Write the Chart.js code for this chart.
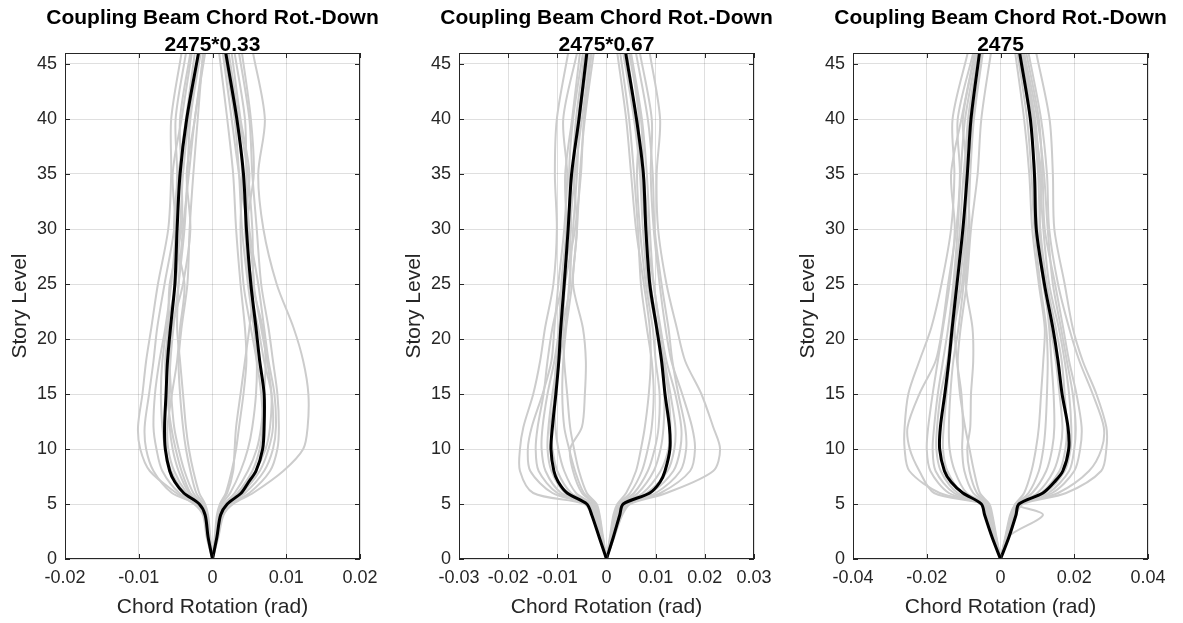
<!DOCTYPE html>
<html>
<head>
<meta charset="utf-8">
<script src="https://cdn.jsdelivr.net/npm/chart.js@4"></script>
<style>
  body { margin: 0; background: #fff; overflow: hidden; }
  .panel { position: absolute; top: 0; width: 394px; height: 623px; }
</style>
</head>
<body>
<div class="panel" style="left:0px"><canvas id="c1" width="394" height="623"></canvas></div>
<div class="panel" style="left:394px"><canvas id="c2" width="394" height="623"></canvas></div>
<div class="panel" style="left:788px"><canvas id="c3" width="394" height="623"></canvas></div>
<script>
// story levels at which the records are read
const levels = [0, 2, 4, 5, 6, 8, 10, 12, 15, 18, 21, 25, 30, 35, 40, 46];
const meanLevels = [0, 2, 4, 5, 6, 7, 8, 10, 12, 15, 18, 21, 25, 30, 35, 40, 46];

const yTicks = [0, 5, 10, 15, 20, 25, 30, 35, 40, 45];
const xTicks1 = [-0.02, -0.01, 0, 0.01, 0.02];
const xTicks2 = [-0.03, -0.02, -0.01, 0, 0.01, 0.02, 0.03];
const xTicks3 = [-0.04, -0.02, 0, 0.02, 0.04];

const mainTitle = 'Coupling Beam Chord Rot.-Down';
const subTitles = ['2475*0.33', '2475*0.67', '2475'];

// all rotations below in milliradians

// --- 2475*0.33 ---
const p1Mean = [
  [0, -0.6, -1.0, -1.8, -3.9, -5.1, -5.8, -6.4, -6.5, -6.3, -6.1, -5.7, -5.1, -4.8, -4.4, -3.5, -1.9],
  [0, 0.6, 1.1, 2.0, 3.9, 4.9, 5.9, 6.8, 7.0, 7.0, 6.4, 5.9, 5.2, 4.6, 4.2, 3.3, 1.8]
];
const p1Records = [
  [0, -0.8, -1.3, -2.5, -4.9, -8.5, -9.8, -10.1, -9.5, -9.0, -8.3, -7.4, -6.0, -5.6, -5.6, -4.2],
  [0, -0.7, -1.2, -2.2, -5.5, -8.0, -9.0, -9.2, -8.6, -8.0, -7.5, -6.5, -5.2, -4.8, -5.0, -3.6],
  [0, -0.6, -1.0, -1.8, -4.5, -6.8, -7.6, -8.0, -7.8, -7.2, -6.4, -5.6, -5.0, -5.4, -4.2, -2.8],
  [0, -0.5, -0.9, -1.6, -3.8, -5.6, -6.4, -6.8, -7.0, -6.8, -6.2, -5.0, -4.4, -4.0, -3.2, -1.8],
  [0, -0.6, -1.1, -1.7, -3.2, -4.6, -5.4, -5.8, -5.9, -5.7, -5.3, -4.6, -3.8, -3.4, -3.0, -1.6],
  [0, -0.4, -0.8, -1.4, -2.6, -3.8, -4.6, -5.2, -5.6, -5.8, -5.5, -4.0, -3.0, -3.5, -2.4, -1.2],
  [0, -0.5, -1.0, -1.9, -3.5, -5.2, -6.0, -6.1, -5.5, -4.8, -4.4, -3.8, -5.2, -4.6, -3.6, -2.4],
  [0, -0.4, -0.7, -1.2, -2.2, -3.0, -3.6, -4.0, -4.4, -4.6, -4.2, -3.4, -3.1, -2.6, -2.0, -1.3],
  [0, -0.5, -0.9, -1.5, -3.0, -4.2, -5.0, -5.6, -6.2, -6.4, -6.0, -5.8, -4.2, -4.2, -4.4, -3.0],
  [0, -0.3, -0.6, -1.0, -1.8, -2.6, -3.2, -3.6, -4.0, -4.4, -4.8, -4.6, -4.0, -3.2, -2.4, -1.0],
  [0, 0.8, 1.5, 2.8, 5.5, 9.6, 12.3, 12.9, 13.0, 12.3, 11.0, 8.7, 6.9, 6.2, 7.1, 5.5],
  [0, 0.7, 1.3, 2.4, 5.0, 7.8, 8.8, 9.0, 8.8, 8.2, 7.6, 6.6, 6.0, 5.4, 5.0, 3.6],
  [0, 0.6, 1.1, 2.0, 4.4, 7.0, 8.2, 8.6, 8.4, 7.6, 7.0, 6.2, 5.0, 4.6, 4.4, 3.0],
  [0, 0.6, 1.0, 1.8, 3.6, 5.8, 7.2, 7.8, 8.0, 7.4, 6.6, 5.6, 5.4, 4.8, 3.6, 2.2],
  [0, 0.5, 0.9, 1.6, 3.0, 4.8, 6.0, 6.6, 7.0, 7.2, 6.8, 5.4, 4.4, 5.0, 3.8, 2.6],
  [0, 0.4, 0.8, 1.3, 2.4, 3.8, 4.8, 5.4, 5.9, 6.0, 5.6, 4.8, 4.0, 3.6, 3.0, 1.6],
  [0, 0.3, 0.6, 1.0, 1.8, 2.6, 3.2, 3.6, 4.2, 4.6, 4.4, 3.8, 3.2, 2.8, 2.0, 0.9],
  [0, 0.5, 1.0, 1.7, 3.4, 5.4, 6.4, 6.8, 6.6, 6.0, 5.2, 4.2, 3.8, 4.0, 3.4, 2.0],
  [0, 0.4, 0.7, 1.1, 2.0, 2.8, 3.0, 3.2, 3.8, 4.4, 5.0, 5.6, 4.8, 3.6, 2.6, 1.4],
  [0, 0.6, 1.2, 2.1, 4.0, 6.4, 7.6, 8.2, 8.0, 7.0, 6.2, 5.0, 4.6, 5.6, 5.2, 4.0]
];

// --- 2475*0.67 ---
const p2Mean = [
  [0, -1.5, -3.0, -4.0, -8.0, -9.8, -10.7, -11.3, -11.0, -10.3, -9.7, -9.3, -8.6, -7.8, -7.1, -5.6, -4.0],
  [0, 1.4, 2.7, 3.4, 8.8, 10.9, 11.9, 12.9, 12.8, 11.9, 11.2, 10.2, 8.8, 8.0, 7.5, 6.1, 3.9]
];
const p2Records = [
  [0, -1.5, -3.0, -4.5, -14.9, -17.6, -17.6, -16.9, -14.9, -13.5, -12.5, -10.8, -10.1, -10.5, -10.1, -7.8],
  [0, -1.4, -2.8, -4.0, -11.0, -15.5, -16.0, -15.2, -13.0, -11.2, -10.6, -9.8, -8.6, -8.0, -8.8, -6.0],
  [0, -1.3, -2.6, -3.8, -10.0, -13.8, -14.4, -14.0, -12.8, -12.0, -11.0, -9.0, -7.2, -7.6, -6.8, -4.8],
  [0, -1.2, -2.4, -3.6, -9.2, -12.4, -13.2, -13.0, -12.0, -10.6, -9.6, -8.6, -8.0, -7.0, -6.2, -4.4],
  [0, -1.1, -2.2, -3.4, -8.4, -11.2, -12.0, -11.8, -11.0, -10.0, -9.6, -9.2, -8.2, -8.4, -7.0, -5.4],
  [0, -1.0, -2.0, -3.0, -7.2, -10.0, -11.0, -11.4, -10.4, -9.6, -8.4, -7.6, -6.8, -6.0, -5.4, -3.6],
  [0, -1.0, -1.8, -2.8, -6.2, -8.6, -9.8, -10.4, -10.6, -10.2, -9.0, -7.4, -7.4, -6.4, -5.0, -3.2],
  [0, -0.9, -1.6, -2.4, -5.0, -6.8, -7.4, -5.0, -4.4, -4.2, -4.8, -6.8, -6.0, -6.6, -5.8, -3.8],
  [0, -0.8, -1.5, -2.2, -4.6, -6.4, -7.6, -8.6, -9.0, -8.8, -8.2, -7.0, -6.0, -5.4, -4.4, -2.6],
  [0, -0.7, -1.4, -2.0, -4.0, -5.6, -6.6, -7.4, -8.0, -8.6, -8.8, -8.4, -6.4, -5.2, -4.6, -3.0],
  [0, 1.6, 3.2, 4.8, 12.2, 21.7, 23.1, 21.7, 19.3, 16.0, 14.3, 12.2, 10.5, 10.2, 10.9, 8.8],
  [0, 1.5, 3.0, 4.4, 11.0, 17.0, 18.0, 17.4, 15.4, 13.2, 12.0, 10.8, 9.6, 9.0, 9.2, 6.8],
  [0, 1.4, 2.8, 4.0, 10.0, 15.0, 16.2, 16.0, 14.6, 13.4, 12.6, 11.2, 9.8, 9.4, 8.4, 6.0],
  [0, 1.3, 2.6, 3.8, 9.0, 13.6, 15.0, 15.2, 14.0, 12.2, 11.0, 9.6, 8.8, 8.2, 7.2, 5.0],
  [0, 1.2, 2.4, 3.4, 8.2, 12.4, 13.8, 14.0, 13.0, 11.8, 10.4, 9.0, 8.4, 7.6, 7.0, 4.6],
  [0, 1.1, 2.2, 3.2, 7.4, 11.0, 12.6, 13.0, 12.6, 11.6, 10.8, 9.6, 8.0, 7.0, 6.0, 4.2],
  [0, 1.0, 2.0, 3.0, 6.4, 9.6, 11.0, 11.6, 11.8, 11.4, 10.2, 8.4, 7.4, 6.8, 5.6, 3.4],
  [0, 0.9, 1.8, 2.6, 5.6, 8.4, 9.8, 10.6, 10.8, 10.0, 9.4, 8.0, 6.8, 6.2, 6.6, 4.8],
  [0, 0.8, 1.6, 2.4, 4.8, 7.2, 8.4, 9.2, 9.6, 9.2, 8.2, 7.0, 6.4, 5.6, 4.6, 2.8],
  [0, 0.7, 1.4, 2.2, 4.0, 6.0, 7.0, 7.8, 8.6, 9.0, 8.8, 7.6, 6.0, 5.0, 4.0, 2.2]
];

// --- 2475 ---
const p3Mean = [
  [0, -2.3, -4.3, -5.2, -10.2, -13.4, -15.2, -16.5, -16.3, -15.1, -14.0, -13.1, -11.8, -10.2, -9.0, -8.0, -5.7],
  [0, 2.3, 4.2, 5.0, 11.5, 14.6, 16.9, 18.5, 18.3, 16.7, 15.6, 14.2, 11.9, 9.7, 9.2, 8.1, 5.2]
];
const p3Records = [
  [0, -2.0, -4.0, -4.8, -16.5, -24.7, -26.0, -26.0, -25.0, -22.0, -18.8, -16.0, -13.4, -12.5, -13.0, -8.9],
  [0, -2.0, -3.8, -4.6, -18.0, -22.0, -24.6, -25.2, -22.0, -17.6, -15.8, -14.2, -12.0, -11.0, -11.6, -7.4],
  [0, -1.8, -3.6, -4.4, -14.0, -19.0, -20.0, -19.6, -18.4, -17.0, -15.6, -13.8, -12.4, -13.4, -10.6, -7.0],
  [0, -1.7, -3.4, -4.2, -12.6, -17.6, -18.4, -18.0, -17.0, -15.6, -14.2, -12.8, -11.6, -10.8, -9.6, -6.4],
  [0, -1.6, -3.2, -4.0, -11.6, -16.2, -17.4, -17.2, -16.2, -14.4, -13.4, -12.4, -11.0, -10.0, -8.4, -5.6],
  [0, -1.5, -3.0, -3.8, -10.4, -14.4, -15.6, -15.4, -14.6, -13.8, -12.6, -10.4, -9.4, -9.6, -8.8, -6.0],
  [0, -1.4, -2.8, -3.6, -9.2, -12.4, -13.8, -14.0, -13.6, -12.8, -11.4, -10.0, -8.8, -8.2, -7.2, -4.8],
  [0, -1.3, -2.6, -3.4, -7.4, -9.8, -10.4, -10.2, -10.6, -11.8, -12.4, -11.0, -9.6, -9.0, -10.2, -6.8],
  [0, -1.2, -2.4, -3.2, -6.4, -8.4, -9.0, -8.2, -8.0, -7.4, -7.6, -9.4, -8.4, -8.8, -7.4, -5.0],
  [0, -1.1, -2.2, -3.0, -5.6, -7.2, -8.4, -9.6, -11.0, -11.6, -10.8, -9.2, -8.0, -6.2, -5.2, -2.6],
  [0, 2.2, 4.2, 6.0, 17.8, 27.3, 28.7, 28.7, 26.0, 22.3, 19.6, 17.4, 14.6, 14.2, 13.3, 9.7],
  [0, 2.1, 4.0, 5.6, 15.6, 24.0, 27.4, 28.0, 25.0, 21.4, 18.6, 15.6, 13.2, 12.6, 11.0, 7.6],
  [0, 2.0, 11.5, 4.0, 14.0, 20.0, 21.6, 22.0, 20.6, 18.6, 17.0, 14.8, 12.0, 11.4, 10.4, 7.0],
  [0, 1.9, 3.8, 5.2, 13.0, 18.6, 20.0, 20.4, 19.6, 18.0, 16.4, 14.2, 12.8, 11.8, 10.0, 6.4],
  [0, 1.8, 3.6, 5.0, 12.0, 17.4, 19.0, 19.2, 18.6, 17.4, 15.8, 13.2, 11.6, 10.6, 9.4, 6.0],
  [0, 1.7, 3.4, 4.8, 11.0, 16.0, 17.6, 18.0, 17.4, 16.6, 15.0, 12.6, 10.8, 10.2, 8.8, 5.6],
  [0, 1.6, 3.2, 4.6, 10.0, 14.4, 16.2, 16.8, 16.0, 15.0, 13.6, 11.6, 10.0, 9.4, 8.0, 5.0],
  [0, 1.5, 3.0, 4.4, 8.6, 12.4, 14.0, 14.6, 14.4, 13.8, 13.2, 12.0, 10.6, 11.0, 9.0, 6.4],
  [0, 1.4, 2.8, 4.2, 7.6, 10.4, 11.6, 12.2, 12.6, 12.8, 12.4, 10.8, 9.2, 8.4, 7.2, 4.6],
  [0, 1.3, 2.6, 4.0, 6.4, 8.4, 9.6, 10.4, 11.0, 11.6, 12.0, 10.4, 8.6, 7.8, 6.4, 4.0]
];

const FONT = '"Liberation Sans", Arial, Helvetica, sans-serif';
const AXIS_COLOR = '#262626';

// mrad -> rad points along the story levels
function toPoints(lv, vals) {
  return vals.map((v, i) => ({ x: v / 1000, y: lv[i] }));
}

// MATLAB-ish box with inward ticks on all four sides
const boxPlugin = {
  id: 'axesBox',
  afterDraw(chart) {
    const { ctx, chartArea: a, scales } = chart;
    ctx.save();
    ctx.strokeStyle = AXIS_COLOR;
    ctx.lineWidth = 1;
    ctx.strokeRect(a.left + 0.5, a.top + 0.5, a.width - 1, a.height - 1);
    ctx.beginPath();
    scales.x.ticks.forEach(t => {
      const px = Math.round(scales.x.getPixelForValue(t.value)) + 0.5;
      ctx.moveTo(px, a.bottom); ctx.lineTo(px, a.bottom - 5);
      ctx.moveTo(px, a.top); ctx.lineTo(px, a.top + 5);
    });
    scales.y.ticks.forEach(t => {
      const py = Math.round(scales.y.getPixelForValue(t.value)) + 0.5;
      ctx.moveTo(a.left, py); ctx.lineTo(a.left + 5, py);
      ctx.moveTo(a.right, py); ctx.lineTo(a.right - 5, py);
    });
    ctx.stroke();
    ctx.restore();
  }
};

// two-line title centred on the plot area (the built-in title squeezes
// text wider than the plot)
const plotTitle = {
  id: 'plotTitle',
  afterDraw(chart, args, opts) {
    const { ctx, chartArea: a } = chart;
    const cx = (a.left + a.right) / 2;
    ctx.save();
    ctx.fillStyle = '#000000';
    ctx.font = 'bold 21px ' + FONT;
    ctx.textAlign = 'center';
    ctx.textBaseline = 'middle';
    opts.lines.forEach((line, i) => ctx.fillText(line, cx, 18.5 + i * 26.6));
    ctx.restore();
  }
};

function createPanel(id, subTitle, xTicks, means, records) {
  const ctx = document.getElementById(id).getContext('2d');
  const datasets = [];
  // first datasets are drawn on top
  means.forEach(m => {
    datasets.push({
      data: toPoints(meanLevels, m),
      borderColor: '#000000',
      borderWidth: 3,
      tension: 0.3
    });
  });
  records.forEach(r => {
    datasets.push({
      data: toPoints(levels, r),
      borderColor: '#cccccc',
      borderWidth: 2,
      tension: 0.3
    });
  });

  new Chart(ctx, {
    type: 'line',
    data: { datasets },
    plugins: [boxPlugin, plotTitle],
    options: {
      responsive: false,
      animation: false,
      indexAxis: 'y',
      layout: { padding: { left: 0, right: 34, top: 53, bottom: 0 } },
      elements: { point: { radius: 0 } },
      plugins: {
        legend: { display: false },
        tooltip: { enabled: false },
        title: { display: false },
        plotTitle: { lines: [mainTitle, subTitle] }
      },
      scales: {
        x: {
          type: 'linear',
          min: xTicks[0],
          max: xTicks[xTicks.length - 1],
          afterBuildTicks: s => { s.ticks = xTicks.map(v => ({ value: v })); },
          afterFit: s => { s.height = 64; },
          grid: { color: 'rgba(38,38,38,0.15)', drawTicks: false },
          border: { display: false },
          ticks: {
            padding: 8,
            color: AXIS_COLOR,
            font: { family: FONT, size: 18 },
            callback: v => String(v)
          },
          title: {
            display: true,
            text: 'Chord Rotation (rad)',
            color: AXIS_COLOR,
            font: { family: FONT, size: 21 },
            padding: { top: 0, bottom: 3.4 }
          }
        },
        y: {
          type: 'linear',
          min: 0,
          max: 46,
          afterBuildTicks: s => { s.ticks = yTicks.map(v => ({ value: v })); },
          afterFit: s => { s.width = 65; },
          grid: { color: 'rgba(38,38,38,0.15)', drawTicks: false },
          border: { display: false },
          ticks: {
            padding: 8,
            color: AXIS_COLOR,
            font: { family: FONT, size: 18 }
          },
          title: {
            display: true,
            text: 'Story Level',
            color: AXIS_COLOR,
            font: { family: FONT, size: 21 },
            padding: { top: 8, bottom: 0 }
          }
        }
      }
    }
  });
}

document.addEventListener('DOMContentLoaded', () => {
  createPanel('c1', subTitles[0], xTicks1, p1Mean, p1Records);
  createPanel('c2', subTitles[1], xTicks2, p2Mean, p2Records);
  createPanel('c3', subTitles[2], xTicks3, p3Mean, p3Records);
});
</script>
</body>
</html>
